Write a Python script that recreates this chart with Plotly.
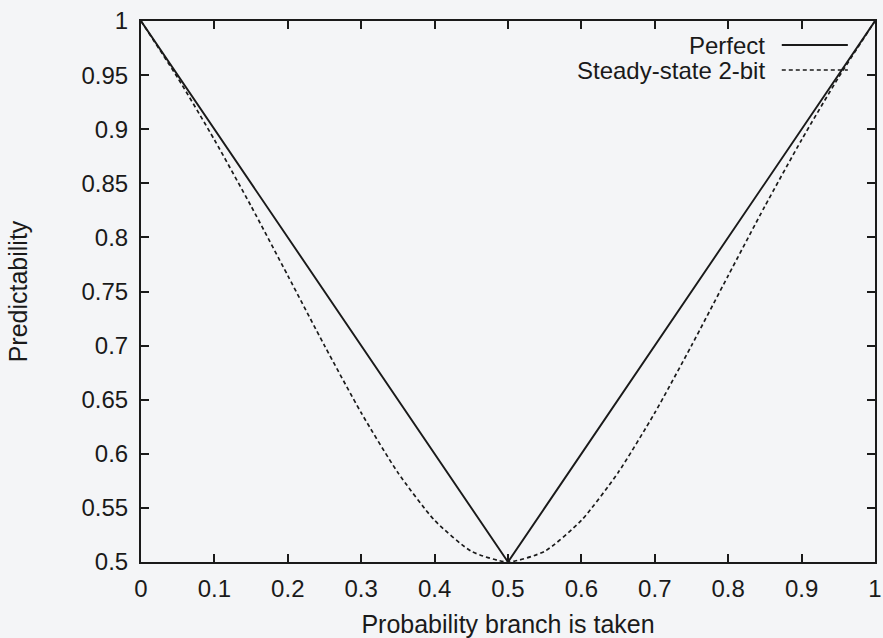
import plotly.graph_objects as go

# Probability that the branch is taken
prob = [0.0, 0.05, 0.1, 0.15, 0.2, 0.25, 0.3, 0.35, 0.4, 0.45, 0.5,
        0.55, 0.6, 0.65, 0.7, 0.75, 0.8, 0.85, 0.9, 0.95, 1.0]

# Predictability of a perfect predictor
perfect = [1.0, 0.95, 0.9, 0.85, 0.8, 0.75, 0.7, 0.65, 0.6, 0.55, 0.5,
           0.55, 0.6, 0.65, 0.7, 0.75, 0.8, 0.85, 0.9, 0.95, 1.0]

# Predictability of a 2-bit saturating counter in steady state
two_bit = [1.0, 0.9475, 0.8902, 0.8289, 0.7647, 0.7, 0.6379, 0.5826, 0.5385, 0.5099, 0.5,
           0.5099, 0.5385, 0.5826, 0.6379, 0.7, 0.7647, 0.8289, 0.8902, 0.9475, 1.0]

x_ticks = [0, 0.1, 0.2, 0.3, 0.4, 0.5, 0.6, 0.7, 0.8, 0.9, 1]
x_tick_text = ["0", "0.1", "0.2", "0.3", "0.4", "0.5", "0.6", "0.7", "0.8", "0.9", "1"]
y_ticks = [0.5, 0.55, 0.6, 0.65, 0.7, 0.75, 0.8, 0.85, 0.9, 0.95, 1]
y_tick_text = ["0.5", "0.55", "0.6", "0.65", "0.7", "0.75", "0.8", "0.85", "0.9", "0.95", "1"]

series_names = ["Perfect", "Steady-state 2-bit"]

INK = "#1a1a1a"
FONT = "Liberation Sans, Arial, Helvetica, sans-serif"
FS = 24
FS_TITLE = 25
BG = "#f4f5f7"

fig = go.Figure()
fig.add_trace(go.Scatter(
    x=prob, y=perfect, mode="lines", name=series_names[0],
    line=dict(color=INK, width=1.9), showlegend=False,
))
fig.add_trace(go.Scatter(
    x=prob, y=two_bit, mode="lines", name=series_names[1],
    line=dict(color=INK, width=1.7, dash="4px,3px", shape="spline", smoothing=0.6),
    showlegend=False,
))

# Legend drawn as right-aligned labels with line samples to their right
legend_rows = [(0.9556, "solid", 1.9), (0.9094, "4px,3px", 1.7)]
for name, (yp, dash, w) in zip(series_names, legend_rows):
    fig.add_annotation(
        x=0.853, y=yp, xref="paper", yref="paper", text=name, showarrow=False,
        xanchor="right", yanchor="middle", font=dict(size=FS, color=INK, family=FONT),
    )
    fig.add_shape(
        type="line", xref="paper", yref="paper", x0=0.873, x1=0.963, y0=yp, y1=yp,
        line=dict(color=INK, width=w, dash=dash),
    )

axis_common = dict(
    showgrid=False, zeroline=False, showline=True, linecolor=INK, linewidth=2,
    mirror="ticks", ticks="inside", ticklen=8, tickwidth=1.6, tickcolor=INK,
    tickfont=dict(size=FS, color=INK, family=FONT), automargin=False,
)

fig.update_xaxes(
    range=[0, 1], tickmode="array", tickvals=x_ticks, ticktext=x_tick_text,
    title=dict(text="Probability branch is taken",
               font=dict(size=FS_TITLE, color=INK, family=FONT), standoff=15),
    ticklabelstandoff=4,
    **axis_common,
)
fig.update_yaxes(
    range=[0.5, 1], tickmode="array", tickvals=y_ticks, ticktext=y_tick_text,
    title=dict(text="Predictability",
               font=dict(size=FS_TITLE, color=INK, family=FONT), standoff=47),
    ticklabelstandoff=6,
    **axis_common,
)

fig.update_layout(
    width=883, height=638,
    margin=dict(l=141, r=8, t=21, b=76),
    paper_bgcolor=BG, plot_bgcolor=BG,
    font=dict(family=FONT, color=INK),
)

fig.write_html("out.html")
